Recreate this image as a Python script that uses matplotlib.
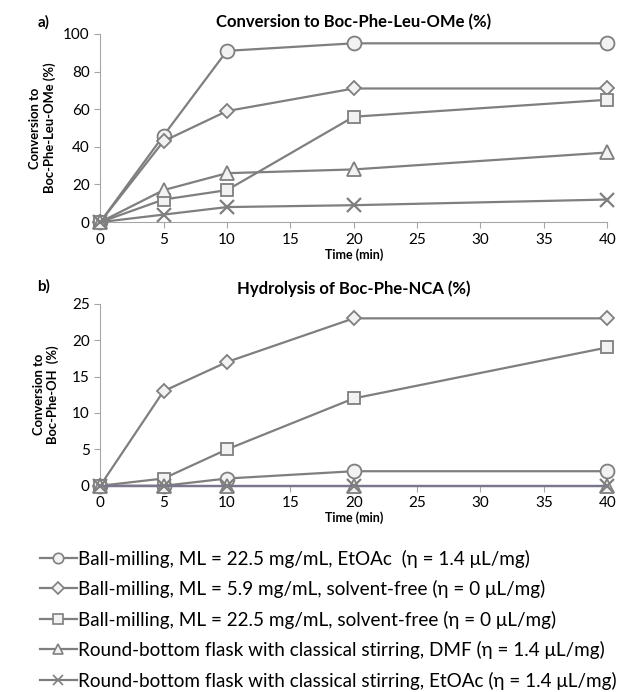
import matplotlib
matplotlib.use("Agg")
from matplotlib import pyplot as plt
from matplotlib.lines import Line2D

plt.rcParams['font.family'] = ['Lato', 'DejaVu Sans']

time_min = [0, 5, 10, 20, 40]

labels = [
	'Ball-milling, ML = 22.5 mg/mL, EtOAc  (η = 1.4 μL/mg)',
	'Ball-milling, ML = 5.9 mg/mL, solvent-free (η = 0 μL/mg)',
	'Ball-milling, ML = 22.5 mg/mL, solvent-free (η = 0 μL/mg)',
	'Round-bottom flask with classical stirring, DMF (η = 1.4 μL/mg)',
	'Round-bottom flask with classical stirring, EtOAc (η = 1.4 μL/mg)',
]
markers = ['o', 'D', 's', '^', 'x']

# a) conversion to Boc-Phe-Leu-OMe (%)
coupling = [
	[0, 46, 91, 95, 95],
	[0, 43, 59, 71, 71],
	[0, 12, 17, 56, 65],
	[0, 17, 26, 28, 37],
	[0, 4, 8, 9, 12],
]

# b) hydrolysis of Boc-Phe-NCA (%)
hydrolysis = [
	[0, 0, 1, 2, 2],
	[0, 13, 17, 23, 23],
	[0, 1, 5, 12, 19],
	[0, 0, 0, 0, 0],
	[0, 0, 0, 0, 0],
]

line_grey = '#7f7f7f'
face_grey = '#f2f2f2'
sizes = {'o': 10, 'D': 7.5, 's': 9, '^': 9.5, 'x': 9.5}

fig = plt.figure(figsize=(6.26, 6.92), dpi=100)
ax_a = fig.add_axes([0.16, 0.679, 0.81, 0.272])
ax_b = fig.add_axes([0.16, 0.298, 0.81, 0.263])


def draw_panel(ax, series, last_colour):
	for i, values in enumerate(series):
		m = markers[i]
		colour = line_grey
		if i == 4 and last_colour:
			colour = last_colour
		ax.plot(time_min, values, color=colour, lw=1.6, marker=m, ms=sizes[m],
			mfc=face_grey, mec=line_grey, mew=1.3 if m != 'x' else 1.6, clip_on=False, zorder=3)
	ax.set_xlim(0, 40)
	ax.set_xticks(range(0, 41, 5))
	for side in ('top', 'right'):
		ax.spines[side].set_visible(False)
	for side in ('left', 'bottom'):
		ax.spines[side].set_color('#a6a6a6')
	ax.tick_params(colors='#a6a6a6', labelcolor='black', labelsize=11, length=4)
	ax.set_xlabel('Time (min)', fontsize=9, fontweight='bold', labelpad=1)


draw_panel(ax_a, coupling, None)
ax_a.set_ylim(0, 100)
ax_a.set_yticks(range(0, 101, 20))
ax_a.set_title('Conversion to Boc-Phe-Leu-OMe (%)', fontsize=12, fontweight='bold', pad=5)
ax_a.set_ylabel('Conversion to\nBoc-Phe-Leu-OMe (%)', fontsize=9.4, fontweight='bold', labelpad=5)

draw_panel(ax_b, hydrolysis, '#7d7490')
ax_b.set_ylim(0, 25)
ax_b.set_yticks(range(0, 26, 5))
ax_b.set_title('Hydrolysis of Boc-Phe-NCA (%)', fontsize=12, fontweight='bold', pad=7)
ax_b.set_ylabel('Conversion to\nBoc-Phe-OH  (%)', fontsize=9.4, fontweight='bold', labelpad=9)

fig.text(0.06, 0.962, 'a)', fontsize=11, fontweight='bold')
fig.text(0.06, 0.580, 'b)', fontsize=11, fontweight='bold')

legend_handles = []
for m in markers:
	legend_handles.append(Line2D([], [], color=line_grey, lw=1.6, marker=m,
		ms=sizes[m] * 0.75, mfc=face_grey, mec=line_grey, mew=1.2))
fig.legend(legend_handles, labels, loc='upper left', bbox_to_anchor=(0.064, 0.206),
	frameon=False, fontsize=13.6, handlelength=1.95, handletextpad=0.05,
	labelspacing=0.66, borderpad=0, borderaxespad=0)

fig.savefig('out.png', dpi=100)
